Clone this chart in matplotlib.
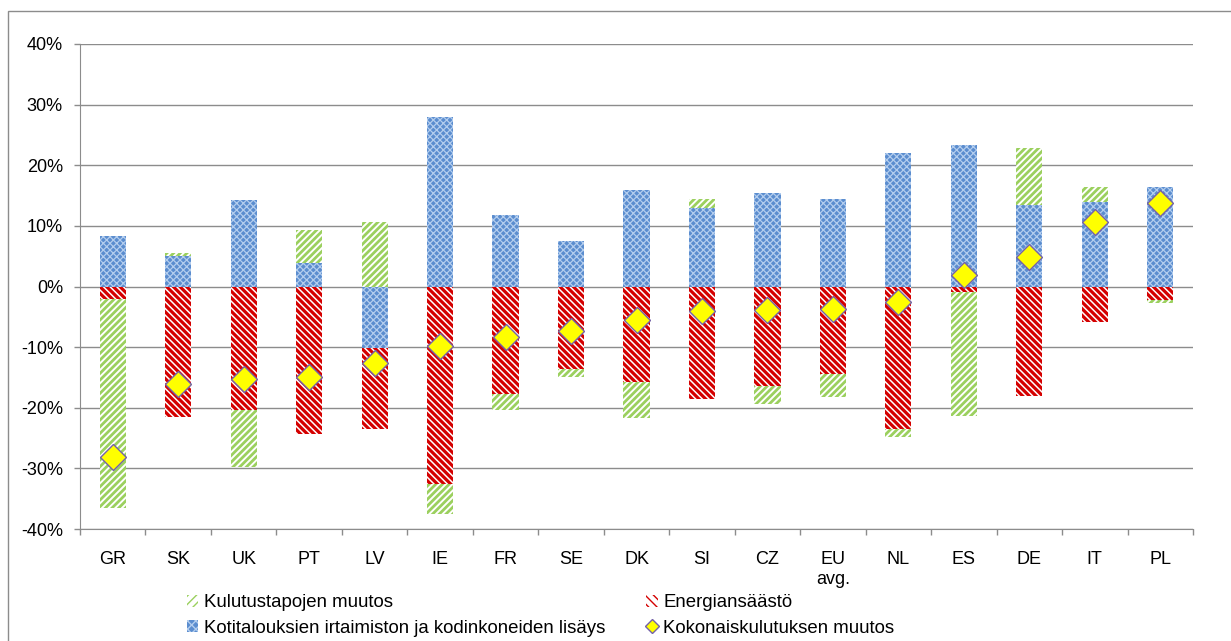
import matplotlib
matplotlib.use("Agg")
import matplotlib.pyplot as plt
import numpy as np
from matplotlib.patches import Rectangle, Patch
from matplotlib.lines import Line2D
from matplotlib.ticker import FuncFormatter, FixedLocator

countries = ['GR', 'SK', 'UK', 'PT', 'LV', 'IE', 'FR', 'SE', 'DK', 'SI', 'CZ',
             'EU\navg.', 'NL', 'ES', 'DE', 'IT', 'PL']
kulutustavat = [-34.4, 0.4, -9.5, 5.5, 10.7, -5.1, -2.5, -1.3, -6.0, 1.6, -3.0,
                -3.9, -1.3, -20.5, 9.5, 2.4, -0.4]
energiansaasto = [-2.1, -21.5, -20.3, -24.4, -13.4, -32.5, -17.8, -13.6, -15.7, -18.6, -16.4,
                  -14.4, -23.5, -0.9, -18.0, -5.8, -2.3]
irtaimisto = [8.4, 5.1, 14.3, 3.8, -10.1, 27.9, 11.8, 7.5, 16.0, 12.9, 15.5,
              14.4, 22.1, 23.3, 13.4, 14.0, 16.4]
kokonais = [-28.1, -16.0, -15.3, -14.9, -12.7, -9.75, -8.4, -7.3, -5.6, -4.0, -3.9,
            -3.7, -2.6, 1.9, 4.9, 10.6, 13.7]

labels = ['Kulutustapojen muutos', 'Energiansäästö',
          'Kotitalouksien irtaimiston ja kodinkoneiden lisäys', 'Kokonaiskulutuksen muutos']

plt.rcParams['font.family'] = ['Liberation Sans', 'DejaVu Sans']

fig = plt.figure(figsize=(12.31, 6.41), dpi=100)
ax = fig.add_axes([80/1231, 1-529/641, (1193-80)/1231, (529-44)/641])

x = np.arange(len(countries))
w = 0.4

styles = {
    'blue': dict(facecolor='#5B8DCF', edgecolor='#B3CDEE', hatch='xxxxx', hlw=0.9),
    'red': dict(facecolor='white', edgecolor='#D40000', hatch='\\\\\\\\\\', hlw=2.3),
    'green': dict(facecolor='white', edgecolor='#9BD05E', hatch='/////', hlw=2.0),
}

pos_bottom = np.zeros(len(x))
neg_bottom = np.zeros(len(x))
for key, vals in [('blue', irtaimisto), ('red', energiansaasto), ('green', kulutustavat)]:
    vals = np.array(vals, dtype=float)
    bottoms = np.where(vals >= 0, pos_bottom, neg_bottom)
    st = styles[key]
    with plt.rc_context({'hatch.linewidth': st['hlw']}):
        ax.bar(x, vals, width=w, bottom=bottoms, facecolor=st['facecolor'],
               edgecolor=st['edgecolor'], hatch=st['hatch'], linewidth=0, zorder=2)
    pos_bottom = np.where(vals >= 0, pos_bottom + vals, pos_bottom)
    neg_bottom = np.where(vals < 0, neg_bottom + vals, neg_bottom)

ax.plot(x, kokonais, linestyle='none', marker='D', markersize=13.5,
        markerfacecolor='#FFFF00', markeredgecolor='#7462A8', markeredgewidth=1.0, zorder=3)

ax.set_xlim(-0.5, len(x) - 0.5)
ax.set_ylim(-40, 40)
ax.set_yticks(np.arange(-40, 41, 10))
ax.yaxis.set_major_formatter(FuncFormatter(lambda v, p: f'{v:.0f}%'))
ax.grid(axis='y', color='#8C8C8C', linewidth=1.0, zorder=0)
ax.set_axisbelow(True)

ax.set_xticks(x)
ax.set_xticklabels(countries)
ax.xaxis.set_minor_locator(FixedLocator(np.arange(-0.5, len(x), 1.0)))
ax.tick_params(axis='x', which='major', length=0, pad=16, labelsize=13, colors='black')
ax.tick_params(axis='x', which='minor', length=4.3, color='#8C8C8C', width=1)
ax.tick_params(axis='y', which='major', length=4.3, color='#8C8C8C', width=1, labelsize=13, pad=8)

for s in ['top', 'right']:
    ax.spines[s].set_visible(False)
ax.spines['left'].set_color('#8C8C8C')
ax.spines['bottom'].set_color('#8C8C8C')

# legend handles
with plt.rc_context({'hatch.linewidth': 1.5}):
    h_green = Patch(facecolor='white', edgecolor='#9BD05E', hatch='////', linewidth=0)
    h_red = Patch(facecolor='white', edgecolor='#D40000', hatch='\\\\\\\\', linewidth=0)
with plt.rc_context({'hatch.linewidth': 0.9}):
    h_blue = Patch(facecolor='#5B8DCF', edgecolor='#B3CDEE', hatch='xxxx', linewidth=0)
h_dia = Line2D([], [], linestyle='none', marker='D', markersize=7,
               markerfacecolor='#FFFF00', markeredgecolor='#7462A8', markeredgewidth=1.0)

fig.legend([h_green, h_blue, h_red, h_dia],
           [labels[0], labels[2], labels[1], labels[3]],
           ncol=2, loc='upper left', bbox_to_anchor=(178/1231, 1-585/641),
           frameon=False, fontsize=13.4, handlelength=0.6, handleheight=0.6,
           handletextpad=0.3, columnspacing=2.2, labelspacing=0.45, borderpad=0)

# outer chart frame (cropped at right and bottom)
fig.patches.append(Rectangle((8/1231, -0.1), 1.2, 1.1 - 11/641,
                             transform=fig.transFigure, fill=False,
                             edgecolor='#8C8C8C', linewidth=1.0))

fig.savefig('out.png', dpi=100)
